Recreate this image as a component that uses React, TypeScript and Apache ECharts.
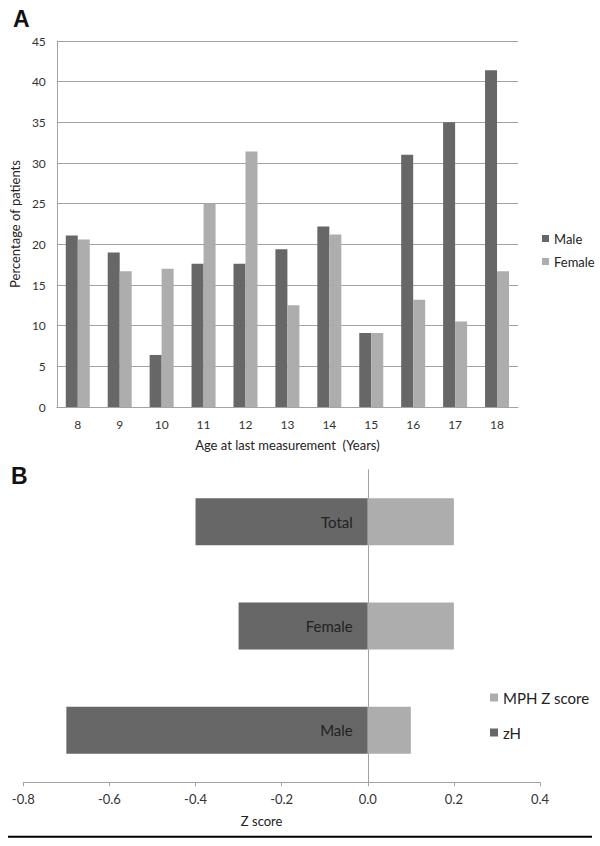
import React, { useEffect, useRef } from "react";
import * as echarts from "echarts";

const ages = ["8", "9", "10", "11", "12", "13", "14", "15", "16", "17", "18"];
const malePct = [21.1, 19.0, 6.4, 17.6, 17.6, 19.4, 22.2, 9.1, 31.0, 35.0, 41.4];
const femalePct = [20.6, 16.7, 17.0, 25.0, 31.4, 12.5, 21.2, 9.1, 13.2, 10.5, 16.7];

const groupsB = ["Male", "Female", "Total"];
const zH = [-0.7, -0.3, -0.4];
const mphZ = [0.1, 0.2, 0.2];

const DARK = "#676767";
const LIGHT = "#adadad";
const GRID = "#a3a3a3";
const FONT = "Lato, 'Open Sans', sans-serif";

export default function App() {
  const ref = useRef<HTMLDivElement>(null);
  useEffect(() => {
    if (!ref.current) return;
    const chart = echarts.init(ref.current, null, { renderer: "svg" });
    chart.setOption({
      animation: false,
      backgroundColor: "#ffffff",
      textStyle: { fontFamily: FONT },
      grid: [
        { left: 54, right: 82, top: 41, bottom: 439, containLabel: false },
        { left: 23.3, right: 60, top: 469.7, bottom: 63.7, containLabel: false },
      ],
      legend: [
        {
          data: ["Male", "Female"],
          orient: "vertical",
          left: 537,
          top: 227,
          itemWidth: 7,
          itemHeight: 7,
          itemGap: 10,
          icon: "rect",
          textStyle: { fontFamily: FONT, fontSize: 13, color: "#222" },
        },
        {
          data: ["MPH Z score", "zH"],
          orient: "vertical",
          left: 485,
          top: 685,
          itemWidth: 8,
          itemHeight: 8,
          itemGap: 20,
          icon: "rect",
          textStyle: { fontFamily: FONT, fontSize: 15, color: "#222" },
        },
      ],
      xAxis: [
        {
          type: "category",
          gridIndex: 0,
          data: ages,
          axisLine: { lineStyle: { color: GRID, width: 1 } },
          axisTick: { show: false },
          axisLabel: { fontFamily: FONT, fontSize: 12, color: "#333", margin: 11 },
          name: "Age at last measurement  (Years)",
          nameLocation: "middle",
          nameGap: 31,
          nameTextStyle: { fontFamily: FONT, fontSize: 13, color: "#222" },
        },
        {
          type: "value",
          gridIndex: 1,
          min: -0.8,
          max: 0.4,
          interval: 0.2,
          axisLine: { show: true, onZero: false, lineStyle: { color: GRID, width: 1 } },
          axisTick: { show: true, length: 4, lineStyle: { color: GRID } },
          splitLine: { show: false },
          axisLabel: {
            fontFamily: FONT,
            fontSize: 13,
            color: "#333",
            margin: 10,
            formatter: (v: number) => v.toFixed(1),
          },
          name: "Z score",
          nameLocation: "middle",
          nameGap: 32,
          nameTextStyle: { fontFamily: FONT, fontSize: 13, color: "#222", padding: [0, 40, 0, 0] },
        },
      ],
      yAxis: [
        {
          type: "value",
          gridIndex: 0,
          min: 0,
          max: 45,
          interval: 5,
          axisLine: { show: true, lineStyle: { color: GRID, width: 1 } },
          axisTick: { show: false },
          splitLine: { lineStyle: { color: GRID, width: 1 } },
          axisLabel: { fontFamily: FONT, fontSize: 12, color: "#333", margin: 11 },
          name: "Percentage of patients",
          nameLocation: "middle",
          nameGap: 32,
          nameTextStyle: { fontFamily: FONT, fontSize: 13, color: "#222" },
        },
        {
          type: "category",
          gridIndex: 1,
          data: groupsB,
          axisLine: { show: true, onZero: true, lineStyle: { color: GRID, width: 1 } },
          axisTick: { show: false },
          axisLabel: { show: false },
          splitLine: { show: false },
        },
      ],
      series: [
        {
          name: "Male",
          type: "bar",
          xAxisIndex: 0,
          yAxisIndex: 0,
          data: malePct,
          barWidth: 12,
          barGap: "0%",
          itemStyle: { color: DARK },
        },
        {
          name: "Female",
          type: "bar",
          xAxisIndex: 0,
          yAxisIndex: 0,
          data: femalePct,
          barWidth: 12,
          barGap: "0%",
          itemStyle: { color: LIGHT },
        },
        {
          name: "zH",
          type: "bar",
          xAxisIndex: 1,
          yAxisIndex: 1,
          data: zH,
          barWidth: 47,
          barGap: "-100%",
          itemStyle: { color: DARK },
          label: {
            show: true,
            position: "insideRight",
            distance: 15,
            formatter: "{b}",
            fontFamily: FONT,
            fontSize: 15,
            color: "#222",
          },
        },
        {
          name: "MPH Z score",
          type: "bar",
          xAxisIndex: 1,
          yAxisIndex: 1,
          data: mphZ,
          barWidth: 47,
          barGap: "-100%",
          itemStyle: { color: LIGHT },
        },
      ],
      graphic: [
        {
          type: "text",
          left: 13,
          top: 7,
          style: { text: "A", fontFamily: "'Liberation Sans', Arial, sans-serif", fontWeight: "bold", fontSize: 23, fill: "#111" },
        },
        {
          type: "text",
          left: 11,
          top: 464,
          style: { text: "B", fontFamily: "'Liberation Sans', Arial, sans-serif", fontWeight: "bold", fontSize: 23, fill: "#111" },
        },
        {
          type: "line",
          shape: { x1: 8, y1: 836.7, x2: 592, y2: 836.7 },
          style: { stroke: "#000", lineWidth: 2 },
        },
      ],
    });
    return () => chart.dispose();
  }, []);
  return (
    <div
      ref={ref}
      style={{ position: "fixed", left: 0, top: 0, width: 600, height: 846 }}
    />
  );
}
